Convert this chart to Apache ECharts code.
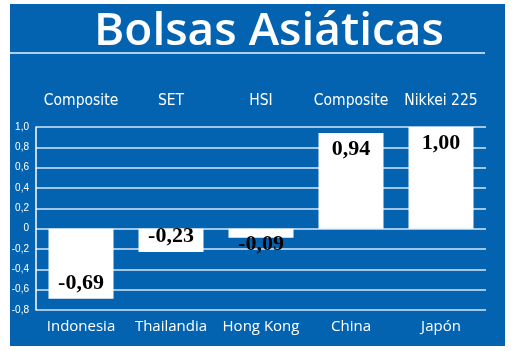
<!DOCTYPE html>
<html>
<head>
<meta charset="utf-8">
<script src="https://cdn.jsdelivr.net/npm/echarts@6/dist/echarts.min.js"></script>
<style>
  html, body { margin: 0; padding: 0; background: #ffffff; }
  #chart { width: 520px; height: 351px; }
</style>
</head>
<body>
<div id="chart"></div>
<script>
var countries = ['Indonesia', 'Thailandia', 'Hong Kong', 'China', 'Japón'];
var indices = ['Composite', 'SET', 'HSI', 'Composite', 'Nikkei 225'];
var changes = [-0.69, -0.23, -0.09, 0.94, 1.00];

var fmt = function (v, digits) {
    if (v === 0) return '0';
    return v.toFixed(digits).replace('.', ',');
};

var chart = echarts.init(document.getElementById('chart'));

var option = {
    backgroundColor: '#ffffff',
    animation: false,
    graphic: [
        { type: 'rect', z: -10, shape: { x: 10, y: 4, width: 495, height: 342 }, style: { fill: '#0463b1' } },
        { type: 'line', shape: { x1: 10, y1: 53, x2: 485, y2: 53 }, style: { stroke: '#e8f2fb', lineWidth: 1.5 } },
        {
            type: 'text', left: 94, top: 9,
            style: { text: 'Bolsas Asiáticas', fill: '#ffffff', font: '600 46px "Open Sans", sans-serif' }
        }
    ],
    grid: { left: 36, right: 34, top: 127, bottom: 41 },
    xAxis: [{
        type: 'category',
        data: countries,
        position: 'bottom',
        axisLine: { show: false, onZero: false },
        axisTick: { show: false },
        axisLabel: { interval: 0, color: '#ffffff', fontSize: 15, margin: 9, fontFamily: '"Open Sans", sans-serif' }
    }, {
        type: 'category',
        data: indices,
        position: 'top',
        axisLine: { show: false, onZero: false },
        axisTick: { show: false },
        axisLabel: { interval: 0, color: '#ffffff', fontSize: 15.5, margin: 18, fontFamily: '"DejaVu Sans Condensed", "Liberation Sans Narrow", sans-serif' }
    }],
    yAxis: {
        type: 'value',
        min: -0.8,
        max: 1.0,
        interval: 0.2,
        axisLine: { show: true, lineStyle: { color: '#ffffff', width: 1.5 } },
        axisTick: { show: false },
        axisLabel: {
            color: '#ffffff', fontSize: 10, margin: 7,
            formatter: function (v) { return fmt(Math.round(v * 10) / 10, 1); }
        },
        splitLine: { lineStyle: { color: '#d6e8f7', width: 1.5 } }
    },
    series: [{
        type: 'bar',
        xAxisIndex: 0,
        barWidth: 65,
        itemStyle: { color: '#ffffff' },
        data: changes.map(function (v) {
            return {
                value: v,
                label: { position: v < -0.15 ? 'insideBottom' : 'insideTop' }
            };
        }),
        label: {
            show: true,
            color: '#000000',
            fontSize: 22,
            fontFamily: '"Liberation Serif", serif',
            fontWeight: 'bold',
            formatter: function (p) { return fmt(p.value, 2); }
        }
    }]
};

chart.setOption(option);
</script>
</body>
</html>
